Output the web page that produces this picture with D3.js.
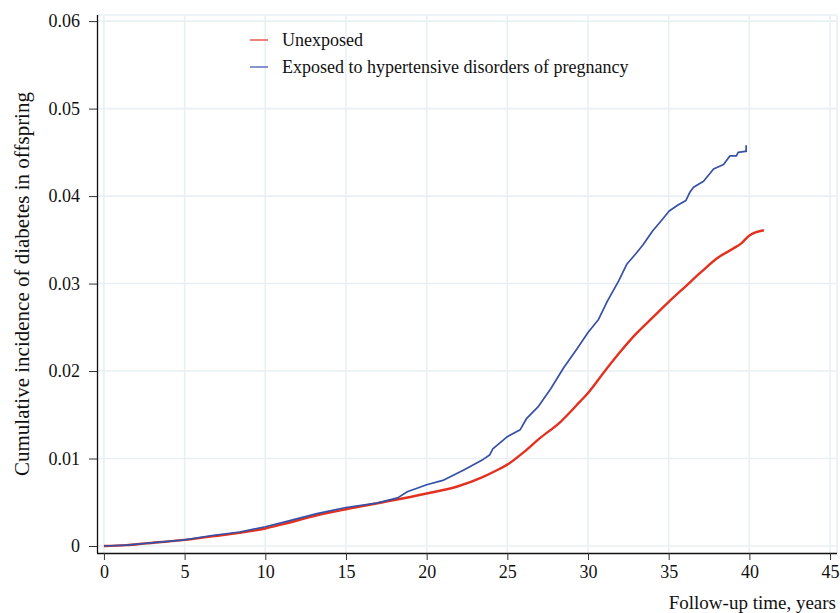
<!DOCTYPE html>
<html>
<head>
<meta charset="utf-8">
<script src="https://cdn.jsdelivr.net/npm/d3@7"></script>
<style>
  body { margin: 0; background: #fff; }
  text { font-family: "Liberation Serif", "Times New Roman", serif; fill: #111; }
</style>
</head>
<body>
<div id="chart"></div>
<script>
// follow-up years and cumulative incidence
const unexposedYears = [0, 1.4, 2.6, 5.0, 6.7, 8.4, 10.0, 11.1, 13.2, 15.0, 17.3, 20.0, 21.9, 23.5,
  24.5, 25.0, 26.0, 27.0, 28.3, 29.5, 30.0, 31.0, 32.0, 33.0, 34.0, 35.0, 36.0, 37.0, 38.0, 39.0, 39.5, 40.0, 40.9];
const unexposedRisk = [0, 0.0001, 0.0003, 0.0007, 0.0011, 0.0015, 0.0020, 0.0025, 0.0035, 0.0042, 0.0050, 0.0060, 0.0068, 0.0079,
  0.0088, 0.0093, 0.0107, 0.0123, 0.0142, 0.0165, 0.0175, 0.0199, 0.0222, 0.0243, 0.0261, 0.0279, 0.0296, 0.0313, 0.0329, 0.0340, 0.0346, 0.0355, 0.0361];

const exposedYears = [0, 1.4, 2.6, 5.0, 6.7, 8.4, 10.0, 11.1, 13.2, 15.0, 16.9, 18.2, 18.8, 20.0, 21.0, 22.3, 23.5, 23.9,
  24.1, 25.0, 25.8, 26.2, 26.9, 27.7, 28.5, 29.3, 30.0, 30.65, 31.2, 31.9, 32.4, 32.96, 33.4, 34.0, 34.5, 35.03, 35.6, 36.07, 36.3,
  36.54, 37.16, 37.78, 38.4, 38.8, 39.2, 39.3, 39.75, 39.8, 39.8];
const exposedRisk = [0, 0.0001, 0.0003, 0.0007, 0.0012, 0.0016, 0.0022, 0.0027, 0.0037, 0.0044, 0.0049, 0.0055, 0.0062, 0.0070, 0.0075, 0.0087, 0.0099, 0.0104,
  0.0111, 0.0125, 0.0133, 0.0146, 0.0159, 0.0180, 0.0204, 0.0225, 0.0244, 0.0259, 0.0280, 0.0303, 0.0322, 0.0334, 0.0344, 0.0360, 0.0371, 0.0383, 0.0390, 0.0395, 0.0404,
  0.0410, 0.0417, 0.0431, 0.0436, 0.0446, 0.0446, 0.0450, 0.0451, 0.0451, 0.0458];

const xTicks = [0, 5, 10, 15, 20, 25, 30, 35, 40, 45];
const yTicks = [0, 0.01, 0.02, 0.03, 0.04, 0.05, 0.06];
const seriesNames = ["Unexposed", "Exposed to hypertensive disorders of pregnancy"];
const seriesColors = ["#e3311f", "#3550a6"];

const width = 840, height = 613;
const plotLeft = 97, plotRight = 837, plotTop = 15, plotBottom = 553;

const svg = d3.select("#chart").append("svg")
  .attr("width", width)
  .attr("height", height);

const x = d3.scaleLinear().domain([-0.43, 45.43]).range([plotLeft, plotRight]);
const y = d3.scaleLinear().domain([-0.0008, 0.0607]).range([plotBottom, plotTop]);

// grid
const grid = svg.append("g").attr("stroke", "#e9f0f2").attr("stroke-width", 1.6);
grid.selectAll(".vx").data(xTicks).enter().append("line")
  .attr("x1", d => x(d)).attr("x2", d => x(d))
  .attr("y1", plotTop).attr("y2", plotBottom);
grid.selectAll(".hy").data(yTicks).enter().append("line")
  .attr("x1", plotLeft).attr("x2", plotRight)
  .attr("y1", d => y(d)).attr("y2", d => y(d));
grid.append("line").attr("x1", plotLeft).attr("x2", plotRight).attr("y1", plotTop).attr("y2", plotTop);
grid.append("line").attr("x1", plotRight).attr("x2", plotRight).attr("y1", plotTop).attr("y2", plotBottom);

// axes
const xAxis = svg.append("g")
  .attr("transform", `translate(0,${plotBottom})`)
  .call(d3.axisBottom(x).tickValues(xTicks).tickSize(7).tickPadding(5).tickSizeOuter(0));
const yAxis = svg.append("g")
  .attr("transform", `translate(${plotLeft},0)`)
  .call(d3.axisLeft(y).tickValues(yTicks).tickSize(8).tickPadding(9).tickSizeOuter(0)
    .tickFormat(d => d === 0 ? "0" : d3.format(".2f")(d)));
[xAxis, yAxis].forEach(a => {
  a.select(".domain").attr("stroke", "#111").attr("stroke-width", 1.3);
  a.selectAll(".tick line").attr("stroke", "#333").attr("stroke-width", 1);
  a.selectAll("text").style("font-family", "Liberation Serif").style("font-size", "18px").attr("fill", "#1a1a1a");
});
xAxis.select(".domain").attr("d", `M${plotLeft},0.5H${plotRight}`);
yAxis.select(".domain").attr("d", `M0.5,${plotTop}V${plotBottom}`);

// curves
const series = [
  d3.zip(unexposedYears, unexposedRisk),
  d3.zip(exposedYears, exposedRisk)
];
const smooth = d3.line().x(d => x(d[0])).y(d => y(d[1])).curve(d3.curveMonotoneX);
const stepped = d3.line().x(d => x(d[0])).y(d => y(d[1]));
svg.selectAll(".curve").data(series).enter().append("path")
  .attr("fill", "none")
  .attr("stroke", (d, i) => seriesColors[i])
  .attr("stroke-width", (d, i) => i === 0 ? 2.4 : 1.7)
  .attr("stroke-linejoin", "round")
  .attr("d", (d, i) => i === 0 ? smooth(d) : stepped(d));

// legend
const legend = svg.selectAll(".legend").data(seriesNames).enter().append("g")
  .attr("transform", (d, i) => `translate(250,${40 + i * 27})`);
legend.append("line")
  .attr("x1", 0).attr("x2", 18)
  .attr("stroke", (d, i) => seriesColors[i]).attr("stroke-width", 1.2);
legend.append("text")
  .attr("x", 32).attr("dy", "0.35em")
  .style("font-size", "18px")
  .text(d => d);

// axis titles
svg.append("text")
  .attr("transform", "translate(28.5,284) rotate(-90)")
  .attr("text-anchor", "middle")
  .style("font-size", "21px")
  .text("Cumulative incidence of diabetes in offspring");
svg.append("text")
  .attr("x", 836).attr("y", 609)
  .attr("text-anchor", "end")
  .style("font-size", "19px")
  .text("Follow-up time, years");
</script>
</body>
</html>
